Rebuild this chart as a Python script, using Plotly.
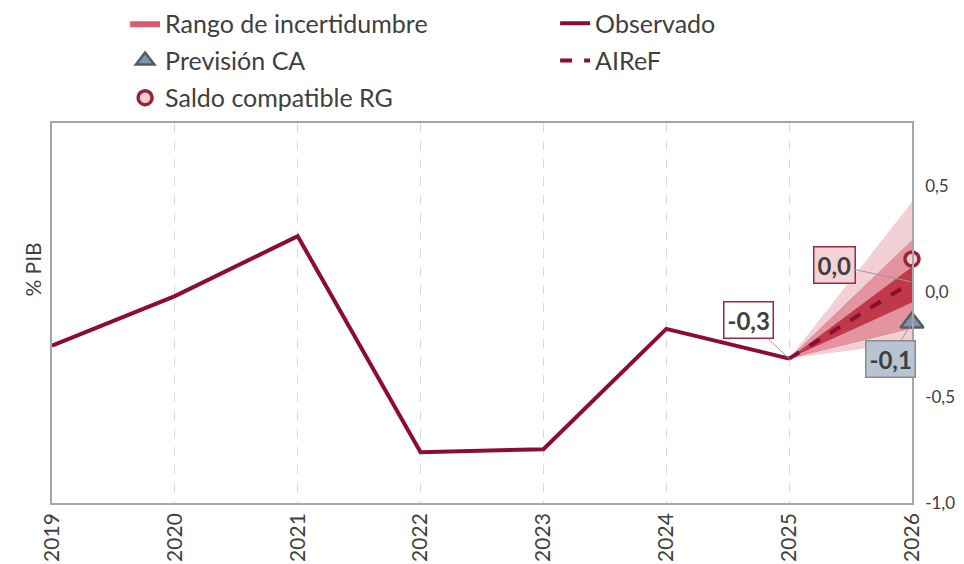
import plotly.graph_objects as go

# ---------------- data ----------------
years = [2019, 2020, 2021, 2022, 2023, 2024, 2025]
observado = [-0.255, -0.02, 0.264, -0.76, -0.745, -0.175, -0.316]

fan_years = [2025, 2026]
airef = [-0.316, 0.047]
band_outer = [-0.239, 0.426]   # lower, upper at 2026
band_mid = [-0.172, 0.244]
band_inner = [-0.05, 0.118]

prevision_ca = [-0.145]        # 2026
saldo_rg = [0.156]             # 2026
target_year = [2026]

y_ticks = [0.5, 0.0, -0.5, -1.0]
x_ticks = [2019, 2020, 2021, 2022, 2023, 2024, 2025, 2026]

FONT = "Lato"
TXT = "#404040"
C_OBS = "rgb(139,13,50)"
C_OUT = "rgb(243,208,213)"
C_MID = "rgb(227,148,160)"
C_IN = "rgb(192,57,75)"


def fmt(v):
    return f"{v:.1f}".replace(".", ",")


def band(lo_hi, color, name, show, lg="legend"):
    start = observado[-1]
    xs = [fan_years[0], fan_years[1], fan_years[1], fan_years[0]]
    ys = [start, lo_hi[1], lo_hi[0], start]
    return go.Scatter(x=xs, y=ys, fill="toself", fillcolor=color, mode="lines",
                      line=dict(width=0, color=color), name=name,
                      showlegend=show, legend=lg, hoverinfo="skip")


fig = go.Figure()
fig.add_trace(band(band_outer, C_OUT, "Rango de incertidumbre", False))
fig.add_trace(band(band_mid, "rgb(222,90,115)", "Rango de incertidumbre", True))
fig.add_trace(band(band_mid, C_MID, "mid", False))
fig.add_trace(band(band_inner, C_IN, "inner", False))

fig.add_trace(go.Scatter(x=years, y=observado, mode="lines", name="Observado",
                         line=dict(color=C_OBS, width=4), legend="legend"))
fig.add_trace(go.Scatter(x=target_year, y=prevision_ca, mode="markers", name="Previsión CA",
                         marker=dict(symbol="triangle-up", size=20, color="#7d93af",
                                     line=dict(color="#565c64", width=2.5)),
                         legend="legend2", cliponaxis=False))
fig.add_trace(go.Scatter(x=fan_years, y=airef, mode="lines", name="AIReF",
                         line=dict(color=C_OBS, width=4, dash="dash"), legend="legend2"))
fig.add_trace(go.Scatter(x=target_year, y=saldo_rg, mode="markers", name="Saldo compatible RG",
                         marker=dict(symbol="circle", size=14, color="#f4d0d4",
                                     line=dict(color="#9b2335", width=3.5)),
                         legend="legend3", cliponaxis=False))

ann_font = dict(family=FONT, size=24, color=TXT)
annotations = [
    dict(x=fan_years[0], y=observado[-1], text="<b>" + fmt(observado[-1]) + "</b>",
         ax=-41, ay=-39, bgcolor="white", bordercolor="#a0283a"),
    dict(x=fan_years[1], y=airef[-1], text="<b>" + fmt(airef[-1]) + "</b>",
         ax=-78, ay=-17, bgcolor="#f2d3d6", bordercolor="#a0283a"),
    dict(x=target_year[0], y=prevision_ca[0], text="<b>" + fmt(prevision_ca[0]) + "</b>",
         ax=-22, ay=36, bgcolor="#b8c4d3", bordercolor="#8c8c8c"),
]
for a in annotations:
    fig.add_annotation(xref="x", yref="y", showarrow=True, arrowhead=0, arrowwidth=1,
                       arrowcolor="#999999", borderwidth=1.5, borderpad=3,
                       font=ann_font, **a)

fig.add_annotation(xref="paper", yref="paper", x=-0.0395, y=0.613, text="% PIB",
                   textangle=-90, showarrow=False, font=dict(family=FONT, size=21, color=TXT))

leg_common = dict(orientation="h", xanchor="left", yanchor="middle", x=0.085,
                  entrywidth=385, entrywidthmode="pixels", bgcolor="rgba(0,0,0,0)",
                  font=dict(family=FONT, size=25, color=TXT), traceorder="normal")

# page body has an 8px margin: figure is sized/offset so the plot lands at the reference spot
fig.update_layout(
    width=956, height=556,
    margin=dict(l=44, r=52, t=115, b=61, autoexpand=False),
    paper_bgcolor="white", plot_bgcolor="white",
    separators=",.",
    font=dict(family=FONT, color=TXT),
    legend=dict(y=1.262, **leg_common),
    legend2=dict(y=1.164, **leg_common),
    legend3=dict(y=1.066, **leg_common),
    xaxis=dict(range=[2019, 2026], tickvals=x_ticks, ticktext=[str(v) for v in x_ticks],
               tickangle=-90, showgrid=True, griddash="dash", gridcolor="#d9d9d9",
               gridwidth=1, showline=True, mirror=True, linecolor="#a6a6a6", linewidth=1.5,
               zeroline=False, tickfont=dict(family=FONT, size=21, color=TXT), ticks=""),
    yaxis=dict(range=[-1.0, 0.8], side="right", tickvals=y_ticks,
               ticktext=[fmt(v) for v in y_ticks],
               showgrid=False, zeroline=False, showline=True, mirror=True,
               linecolor="#a6a6a6", linewidth=1.5, ticks="", ticklabelstandoff=8,
               tickfont=dict(family=FONT, size=17, color=TXT)),
    showlegend=True,
)

fig.write_html("out.html")
